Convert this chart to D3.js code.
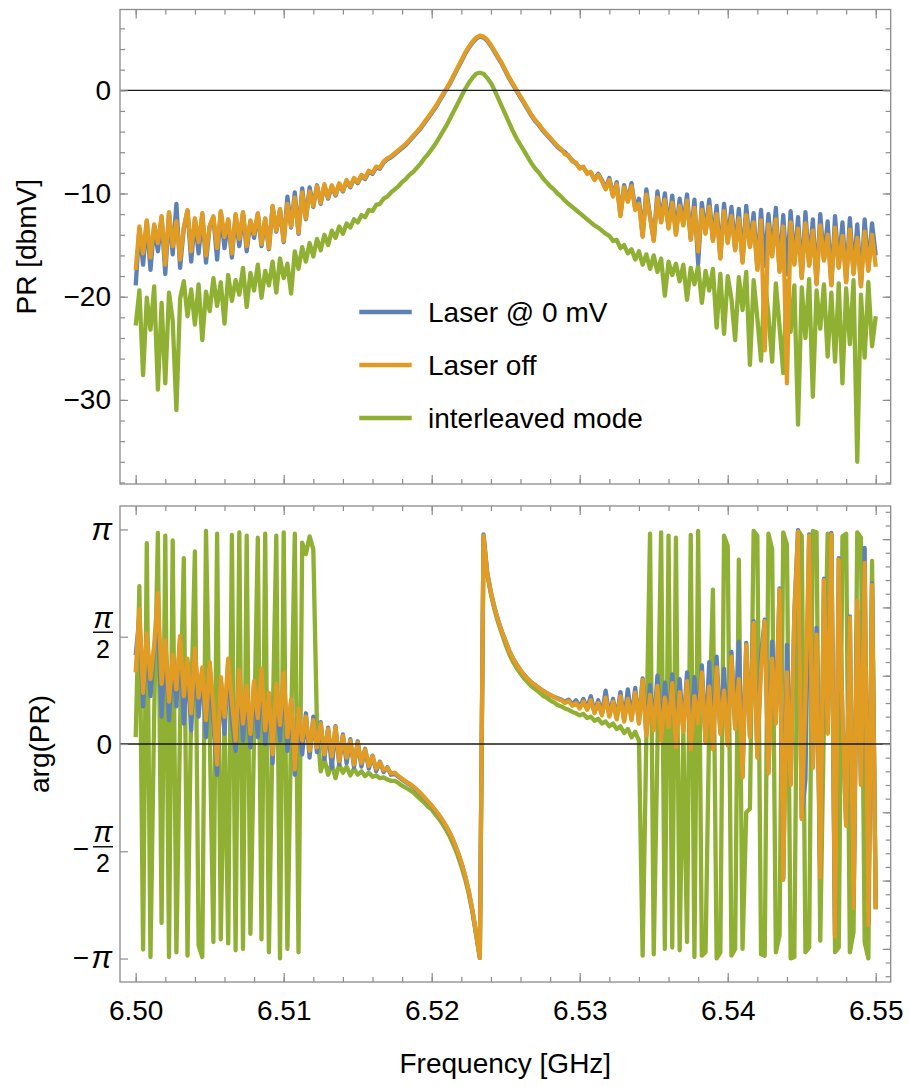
<!DOCTYPE html>
<html><head><meta charset="utf-8">
<script src="https://cdn.jsdelivr.net/npm/d3@7"></script>
<style>body{margin:0;background:#fff} text{font-family:"Liberation Sans",Arial,sans-serif;fill:#000}</style>
</head><body><svg id="c" width="909" height="1086"></svg>
<script>
// frequency sampling: start and step (GHz)
const fStart = 6.50, fStep = 0.00025;

// |PR| in dBmV
const magLaser0mV = [
-18.9,-13.4,-16.9,-12.7,-17.4,-13.1,-15.6,-12.3,-17.8,-11.9,
-15.9,-11.0,-17.2,-13.4,-11.7,-16.6,-12.5,-15.8,-12.0,-16.7,
-13.2,-12.3,-16.4,-11.8,-15.3,-12.6,-16.2,-12.1,-15.1,-11.9,
-15.6,-12.7,-14.3,-12.0,-15.1,-12.5,-15.4,-11.3,-13.7,-11.6,
-14.7,-10.3,-13.3,-9.9,-13.9,-9.5,-12.5,-9.4,-11.3,-9.2,
-11.0,-9.2,-10.5,-9.3,-10.2,-9.1,-9.8,-8.8,-9.4,-8.6,
-9.0,-8.3,-8.6,-7.9,-8.1,-7.5,-7.6,-7.0,-6.7,-6.5,
-6.2,-5.9,-5.6,-5.3,-4.9,-4.5,-4.1,-3.7,-3.2,-2.7,
-2.2,-1.7,-1.1,-0.5,0.1,0.7,1.4,2.1,2.8,3.5,
4.1,4.6,5.0,5.2,5.1,4.8,4.3,3.7,3.1,2.5,
1.8,1.1,0.5,-0.1,-0.7,-1.3,-1.9,-2.5,-3.0,-3.4,
-3.9,-4.3,-4.7,-5.1,-5.5,-5.8,-6.0,-6.4,-6.8,-7.1,
-7.5,-7.5,-8.0,-8.0,-8.6,-8.1,-8.7,-9.5,-8.5,-10.2,
-8.9,-12.1,-9.2,-10.7,-9.0,-11.5,-10.5,-14.1,-9.6,-12.2,
-14.5,-9.8,-12.7,-10.0,-13.3,-10.2,-13.9,-10.5,-13.0,-10.1,
-14.4,-10.6,-16.8,-10.9,-13.8,-10.6,-14.5,-11.2,-16.2,-11.0,
-14.7,-11.3,-15.4,-11.5,-16.6,-11.2,-15.1,-11.9,-17.3,-11.6,
-17.0,-12.0,-16.0,-11.4,-17.5,-12.1,-17.8,-11.7,-16.8,-12.3,
-18.1,-11.8,-16.9,-12.5,-18.7,-12.0,-16.4,-12.7,-18.8,-12.2,
-17.1,-12.8,-18.5,-12.4,-17.7,-13.0,-18.9,-12.5,-17.4,-12.9,
-16.0];
const magLaserOff = [
-17.4,-13.2,-15.8,-12.6,-16.2,-13.0,-14.8,-12.2,-16.9,-11.8,
-15.1,-12.7,-16.4,-13.3,-11.6,-15.6,-12.4,-14.7,-11.9,-16.0,
-13.1,-12.2,-15.3,-11.7,-14.2,-12.5,-15.8,-12.0,-14.4,-11.8,
-15.1,-12.6,-13.9,-11.9,-14.9,-12.4,-15.3,-11.2,-13.6,-11.5,
-14.6,-11.0,-13.2,-10.4,-13.8,-9.9,-12.4,-9.8,-11.2,-9.3,
-10.9,-9.1,-10.4,-9.2,-10.1,-9.0,-9.7,-8.7,-9.3,-8.5,
-8.9,-8.2,-8.5,-7.8,-8.0,-7.4,-7.5,-6.9,-6.6,-6.4,
-6.1,-5.8,-5.5,-5.2,-4.8,-4.4,-4.0,-3.6,-3.1,-2.6,
-2.1,-1.6,-1.0,-0.4,0.2,0.8,1.5,2.2,2.9,3.6,
4.2,4.7,5.1,5.3,5.2,4.9,4.4,3.8,3.2,2.6,
1.9,1.2,0.6,0.0,-0.6,-1.2,-1.8,-2.4,-2.9,-3.3,
-3.8,-4.2,-4.6,-5.0,-5.4,-5.7,-6.2,-6.3,-6.9,-7.0,
-7.6,-7.4,-8.1,-7.9,-8.7,-8.2,-8.8,-9.6,-8.7,-10.3,
-9.1,-12.2,-9.4,-10.8,-9.3,-11.6,-11.0,-14.2,-10.1,-12.3,
-14.6,-10.4,-12.8,-10.6,-13.4,-10.9,-14.0,-11.2,-13.1,-10.7,
-14.5,-11.4,-15.6,-11.6,-13.9,-11.3,-14.6,-12.0,-16.3,-11.7,
-14.8,-12.2,-15.5,-12.4,-16.7,-12.1,-15.2,-12.8,-17.4,-12.6,
-25.2,-13.0,-16.1,-12.5,-17.6,-13.2,-28.4,-12.8,-16.9,-13.4,
-18.2,-12.9,-17.0,-13.6,-18.8,-13.1,-16.5,-14.0,-18.9,-13.3,
-17.2,-14.1,-18.6,-13.5,-17.8,-14.3,-19.0,-13.7,-17.5,-14.0,
-17.1];
const magInterleaved = [
-22.8,-19.4,-27.6,-20.1,-23.2,-19.0,-29.0,-20.6,-28.4,-19.6,
-22.3,-31.0,-20.2,-18.5,-21.9,-19.3,-22.7,-18.8,-24.2,-19.5,
-21.4,-18.2,-20.9,-18.6,-22.6,-17.9,-20.4,-18.4,-19.8,-17.2,
-21.0,-17.7,-19.4,-16.9,-20.1,-17.5,-18.9,-16.6,-19.6,-16.3,
-18.2,-16.8,-19.7,-15.6,-17.3,-15.2,-16.6,-14.8,-16.1,-14.4,
-15.5,-14.0,-15.0,-13.6,-14.3,-13.2,-13.9,-12.9,-13.3,-12.5,
-12.8,-12.1,-12.3,-11.6,-11.7,-11.1,-11.0,-10.5,-10.3,-9.9,
-9.6,-9.3,-8.9,-8.6,-8.2,-7.9,-7.5,-7.1,-6.6,-6.2,
-5.7,-5.2,-4.6,-4.0,-3.4,-2.7,-2.0,-1.3,-0.6,0.1,
0.7,1.2,1.6,1.7,1.6,1.2,0.7,0.0,-0.8,-1.6,
-2.4,-3.2,-4.0,-4.7,-5.3,-5.9,-6.5,-7.1,-7.6,-8.0,
-8.5,-8.9,-9.3,-9.6,-10.0,-10.3,-10.7,-11.0,-11.3,-11.6,
-11.9,-12.2,-12.5,-12.8,-13.1,-13.3,-13.6,-13.9,-14.1,-14.6,
-14.5,-15.3,-15.0,-15.8,-15.4,-16.4,-15.6,-16.9,-15.9,-17.3,
-16.0,-17.6,-16.3,-19.9,-16.6,-17.9,-16.8,-18.5,-16.9,-20.3,
-17.2,-18.8,-17.0,-20.6,-17.5,-19.4,-17.3,-23.0,-17.8,-23.6,
-18.0,-20.2,-24.2,-18.1,-21.3,-17.6,-26.6,-18.4,-22.1,-26.2,
-18.2,-21.8,-26.3,-18.7,-22.9,-27.4,-18.5,-23.4,-18.9,-32.4,
-19.1,-24.0,-18.3,-29.7,-19.4,-23.1,-18.8,-25.8,-19.6,-26.3,
-18.7,-28.4,-19.2,-24.6,-18.4,-36.0,-19.8,-25.9,-18.6,-24.8,
-21.9];

// arg(PR) in radians
const phaseLaser0mV = [
1.30,1.85,0.55,1.60,0.70,1.40,1.85,0.40,1.50,0.35,
1.28,0.55,1.55,0.30,1.20,0.20,1.35,0.40,1.10,0.10,
1.15,0.30,-0.45,0.95,0.15,1.20,0.35,-0.10,1.05,0.05,
0.82,-0.05,0.90,0.10,1.05,0.00,0.72,-0.28,0.85,0.05,
1.00,-0.10,0.62,-0.45,0.50,-0.15,0.45,-0.20,0.40,-0.12,
0.32,-0.22,0.24,-0.35,0.26,-0.30,0.14,-0.28,0.07,-0.34,
0.04,-0.33,-0.07,-0.36,-0.17,-0.40,-0.26,-0.41,-0.34,-0.45,
-0.44,-0.48,-0.52,-0.56,-0.59,-0.63,-0.68,-0.73,-0.79,-0.85,
-0.91,-0.98,-1.05,-1.13,-1.22,-1.32,-1.44,-1.58,-1.74,-1.93,
-2.16,-2.44,-2.78,-3.13,3.07,2.51,2.22,1.99,1.80,1.64,
1.50,1.36,1.25,1.16,1.08,1.01,0.95,0.90,0.86,0.82,
0.78,0.75,0.72,0.69,0.67,0.65,0.62,0.65,0.58,0.64,
0.54,0.66,0.52,0.70,0.47,0.64,0.44,0.78,0.42,0.66,
0.38,0.76,0.35,0.80,0.37,0.82,0.32,0.96,0.14,0.86,
0.22,1.00,0.07,0.90,0.27,1.02,-0.03,0.95,0.20,1.05,
-0.06,0.98,0.32,1.15,0.04,1.20,-0.06,1.28,0.17,1.10,
0.00,1.35,0.24,1.50,-0.47,1.48,0.12,1.80,-0.18,1.30,
1.82,-0.41,1.50,0.32,2.28,-1.97,1.45,-0.58,1.92,3.13,
-1.08,-0.52,3.07,-0.33,1.70,-1.93,2.42,0.17,3.09,-2.80,
2.72,0.42,-1.18,1.87,-2.38,1.97,-0.58,2.87,-2.63,2.35,
-2.40];
const phaseLaserOff = [
1.05,1.98,0.75,1.62,0.95,1.45,2.21,0.88,1.52,0.62,
1.30,0.80,1.58,0.70,1.25,0.45,1.40,0.68,1.12,0.35,
1.20,0.55,-0.30,0.98,0.40,1.25,0.62,0.05,1.08,0.30,
0.85,0.15,0.92,0.38,1.10,0.20,0.75,-0.15,0.88,0.28,
1.05,0.10,0.65,-0.37,0.52,0.05,0.40,-0.10,0.35,-0.05,
0.30,-0.15,0.22,-0.18,0.25,-0.25,0.12,-0.20,0.05,-0.30,
0.02,-0.28,-0.08,-0.32,-0.18,-0.36,-0.27,-0.38,-0.35,-0.43,
-0.42,-0.47,-0.51,-0.55,-0.58,-0.62,-0.67,-0.72,-0.78,-0.84,
-0.90,-0.97,-1.04,-1.12,-1.21,-1.31,-1.43,-1.57,-1.73,-1.92,
-2.15,-2.43,-2.77,-3.13,3.05,2.50,2.22,1.99,1.80,1.64,
1.50,1.36,1.25,1.16,1.08,1.01,0.95,0.90,0.86,0.82,
0.78,0.75,0.72,0.69,0.66,0.64,0.60,0.63,0.56,0.60,
0.52,0.62,0.50,0.64,0.45,0.60,0.42,0.68,0.40,0.62,
0.36,0.70,0.33,0.66,0.35,0.75,0.30,0.94,0.12,0.72,
0.20,0.85,0.05,0.68,0.25,0.89,-0.05,0.76,0.18,0.92,
-0.08,0.70,0.30,1.05,0.02,0.84,-0.08,1.12,0.15,0.78,
-0.02,1.28,0.22,0.95,-0.49,1.45,0.10,1.77,-0.20,1.10,
1.80,-0.43,1.25,0.30,2.26,-1.99,1.05,-0.60,1.90,3.11,
-1.10,0.70,3.05,-0.35,1.60,-1.95,2.40,0.15,3.07,-2.82,
2.70,0.40,-1.20,1.85,-2.40,2.10,-0.60,2.65,-2.65,2.33,
-2.42];
const phaseInterleaved = [
0.10,2.31,-3.01,2.94,-3.12,0.45,3.09,-2.62,3.05,-3.12,
2.98,-3.05,0.30,2.72,-3.10,0.55,2.82,-2.95,-3.12,3.12,
0.20,-2.90,3.08,-2.86,0.40,-2.92,3.06,-3.02,3.10,-3.00,
3.05,-2.78,0.15,3.02,-2.86,3.08,-3.05,0.25,3.05,-3.14,
3.10,-3.00,0.20,3.08,-3.05,2.95,2.78,3.04,2.85,0.25,
-0.40,-0.22,-0.45,-0.28,-0.50,-0.30,-0.42,-0.33,-0.46,-0.36,
-0.45,-0.40,-0.47,-0.42,-0.48,-0.46,-0.50,-0.49,-0.52,-0.54,
-0.54,-0.57,-0.61,-0.64,-0.67,-0.71,-0.76,-0.81,-0.86,-0.92,
-0.96,-1.03,-1.10,-1.18,-1.27,-1.37,-1.49,-1.63,-1.79,-1.97,
-2.19,-2.46,-2.79,-3.13,3.03,2.48,2.19,1.96,1.77,1.61,
1.45,1.31,1.20,1.11,1.03,0.96,0.90,0.84,0.80,0.76,
0.71,0.68,0.64,0.61,0.57,0.55,0.52,0.50,0.47,0.45,
0.42,0.44,0.38,0.40,0.34,0.37,0.30,0.33,0.26,0.30,
0.22,0.26,0.16,0.22,0.10,0.18,0.05,-3.10,0.08,3.08,
-3.08,-0.05,3.10,-3.00,3.05,-2.98,3.02,-3.02,0.20,-2.90,
3.06,-3.12,3.12,-3.10,-3.05,0.30,2.26,-3.14,-3.05,3.05,
2.90,-3.10,-3.00,2.70,-3.00,-1.00,-0.95,3.12,3.05,-3.08,
-3.10,3.08,2.85,-3.05,-2.80,3.10,2.92,-3.14,-3.12,3.12,
3.05,-3.05,-2.98,3.12,3.10,-2.88,0.35,3.08,3.06,-3.05,
-2.98,3.04,3.08,-3.05,-2.75,3.10,3.02,-2.90,-3.14,2.68,
-2.42];

const seriesNames = ["Laser @ 0 mV", "Laser off", "interleaved mode"];
const seriesColors = ["#5E81B5", "#E19C24", "#8FB032"];
const xTickValues = [6.50, 6.51, 6.52, 6.53, 6.54, 6.55];
const xTickLabels = ["6.50", "6.51", "6.52", "6.53", "6.54", "6.55"];
const magTickValues = [0, -10, -20, -30];
const magTickLabels = ["0", "−10", "−20", "−30"];
const phaseTickValues = [Math.PI, Math.PI / 2, 0, -Math.PI / 2, -Math.PI];

// ---------- layout ----------
const svg = d3.select("#c");
const L = 120, R = 890.7;
const topP = {t: 9.5, b: 484}, botP = {t: 506, b: 982};
const frameCol = "#8c8c8c";

const x = d3.scaleLinear().domain([6.49894, 6.55101]).range([L, R]);
const yTop = d3.scaleLinear().domain([-38.15, 7.83]).range([topP.b, topP.t]);
const yBot = d3.scaleLinear().domain([-3.485, 3.485]).range([botP.b, botP.t]);
const freqs = d3.range(magLaserOff.length).map(i => fStart + i * fStep);

const defs = svg.append("defs");
[["clipTop", topP], ["clipBot", botP]].forEach(([id, p]) => {
  defs.append("clipPath").attr("id", id).append("rect")
    .attr("x", L).attr("y", p.t).attr("width", R - L).attr("height", p.b - p.t);
});

function drawSeries(clipId, y, seriesList) {
  const g = svg.append("g").attr("clip-path", `url(#${clipId})`);
  const line = d3.line().x((d, i) => x(freqs[i])).y(d => y(d));
  // draw order: green, blue, orange
  [2, 0, 1].forEach(k => {
    g.append("path").datum(seriesList[k]).attr("d", line)
      .attr("fill", "none").attr("stroke", seriesColors[k])
      .attr("stroke-width", 4.3).attr("stroke-linejoin", "round");
  });
  g.append("line").attr("x1", L).attr("x2", R).attr("y1", y(0)).attr("y2", y(0))
    .attr("stroke", "#1a1a1a").attr("stroke-width", 1.3);
}
drawSeries("clipTop", yTop, [magLaser0mV, magLaserOff, magInterleaved]);
drawSeries("clipBot", yBot, [phaseLaser0mV, phaseLaserOff, phaseInterleaved]);

function styleAxis(g) {
  g.select(".domain").remove();
  g.selectAll(".tick line").attr("stroke", frameCol).attr("stroke-width", 1.2);
}
const xMinor = d3.range(6.500, 6.5505, 0.002);
function xAxes(p) {
  svg.append("g").attr("transform", `translate(0,${p.t})`)
    .call(d3.axisTop(x).tickValues(xMinor).tickSize(-5).tickFormat("")).call(styleAxis);
  svg.append("g").attr("transform", `translate(0,${p.t})`)
    .call(d3.axisTop(x).tickValues(xTickValues).tickSize(-9).tickFormat("")).call(styleAxis);
  svg.append("g").attr("transform", `translate(0,${p.b})`)
    .call(d3.axisBottom(x).tickValues(xMinor).tickSize(-5).tickFormat("")).call(styleAxis);
}
xAxes(topP); xAxes(botP);
svg.append("g").attr("transform", `translate(0,${topP.b})`)
  .call(d3.axisBottom(x).tickValues(xTickValues).tickSize(-9).tickFormat("")).call(styleAxis);
const xLab = svg.append("g").attr("transform", `translate(0,${botP.b})`)
  .call(d3.axisBottom(x).tickValues(xTickValues).tickSize(-9).tickPadding(18)
    .tickFormat((d, i) => xTickLabels[i])).call(styleAxis);
xLab.selectAll("text").attr("font-size", 28).attr("fill", "#000")
  .attr("font-family", "'Liberation Sans', Arial, sans-serif");

// top panel y axes
const magMinor = d3.range(-38, 7, 2);
svg.append("g").attr("transform", `translate(${L},0)`)
  .call(d3.axisLeft(yTop).tickValues(magMinor).tickSize(-5).tickFormat("")).call(styleAxis);
const magLab = svg.append("g").attr("transform", `translate(${L},0)`)
  .call(d3.axisLeft(yTop).tickValues(magTickValues).tickSize(-8).tickPadding(9)
    .tickFormat((d, i) => magTickLabels[i])).call(styleAxis);
magLab.selectAll("text").attr("font-size", 28).attr("fill", "#000")
  .attr("font-family", "'Liberation Sans', Arial, sans-serif");
svg.append("g").attr("transform", `translate(${R},0)`)
  .call(d3.axisRight(yTop).tickValues(magMinor).tickSize(-5).tickFormat("")).call(styleAxis);
svg.append("g").attr("transform", `translate(${R},0)`)
  .call(d3.axisRight(yTop).tickValues(magTickValues).tickSize(-8).tickFormat("")).call(styleAxis);

// bottom panel y axes
svg.append("g").attr("transform", `translate(${L},0)`)
  .call(d3.axisLeft(yBot).tickValues(phaseTickValues).tickSize(-8).tickFormat("")).call(styleAxis);
const radMinor = d3.range(-3.4, 3.41, 0.2);
svg.append("g").attr("transform", `translate(${R},0)`)
  .call(d3.axisRight(yBot).tickValues(radMinor).tickSize(-5).tickFormat("")).call(styleAxis);
svg.append("g").attr("transform", `translate(${R},0)`)
  .call(d3.axisRight(yBot).tickValues(d3.range(-3, 4, 1)).tickSize(-8).tickFormat("")).call(styleAxis);

// pi labels
const piFont = "'Liberation Serif', 'DejaVu Serif', serif";
const pl = svg.append("g");
function piText(xc, yb, anchor, size) {
  pl.append("text").attr("x", xc).attr("y", yb).attr("text-anchor", anchor)
    .attr("font-family", piFont).attr("font-style", "italic").attr("font-size", size).text("π");
}
function minusText(yMid) {
  pl.append("text").attr("x", 89).attr("y", yMid + 9).attr("text-anchor", "end")
    .attr("font-size", 28).text("−");
}
function halfPi(T) {
  piText(103, T - 9, "middle", 29);
  pl.append("line").attr("x1", 93).attr("x2", 113).attr("y1", T - 4.5).attr("y2", T - 4.5)
    .attr("stroke", "#000").attr("stroke-width", 1.4);
  pl.append("text").attr("x", 103).attr("y", T + 21).attr("text-anchor", "middle")
    .attr("font-size", 25).text("2");
}
const tPi = yBot(phaseTickValues[0]), tHalf = yBot(phaseTickValues[1]);
const tmHalf = yBot(phaseTickValues[3]), tmPi = yBot(phaseTickValues[4]);
piText(112, tPi + 10.5, "end", 31);
halfPi(tHalf);
pl.append("text").attr("x", 112).attr("y", yBot(phaseTickValues[2]) + 10).attr("text-anchor", "end")
  .attr("font-size", 28).text("0");
minusText(tmHalf - 2.5); halfPi(tmHalf);
minusText(tmPi - 0.5); piText(112, tmPi + 9.8, "end", 31);

// frames
[topP, botP].forEach(p => {
  svg.append("rect").attr("x", L).attr("y", p.t).attr("width", R - L).attr("height", p.b - p.t)
    .attr("fill", "none").attr("stroke", frameCol).attr("stroke-width", 1.3);
});

// axis titles
svg.append("text").attr("transform", `translate(35.5,${(topP.t + topP.b) / 2}) rotate(-90)`)
  .attr("text-anchor", "middle").attr("font-size", 28).text("PR [dbmV]");
svg.append("text").attr("transform", `translate(48.5,${(botP.t + botP.b) / 2}) rotate(-90)`)
  .attr("text-anchor", "middle").attr("font-size", 28).text("arg(PR)");
svg.append("text").attr("x", (L + R) / 2).attr("y", 1073).attr("text-anchor", "middle")
  .attr("font-size", 28).text("Frequency [GHz]");

// legend
const legY = [312, 365, 418];
seriesNames.forEach((nm, k) => {
  svg.append("line").attr("x1", 359.3).attr("x2", 411.7).attr("y1", legY[k]).attr("y2", legY[k])
    .attr("stroke", seriesColors[k]).attr("stroke-width", 4.3);
  svg.append("text").attr("x", 428).attr("y", legY[k] + 10).attr("font-size", 28).text(nm);
});
</script></body></html>
